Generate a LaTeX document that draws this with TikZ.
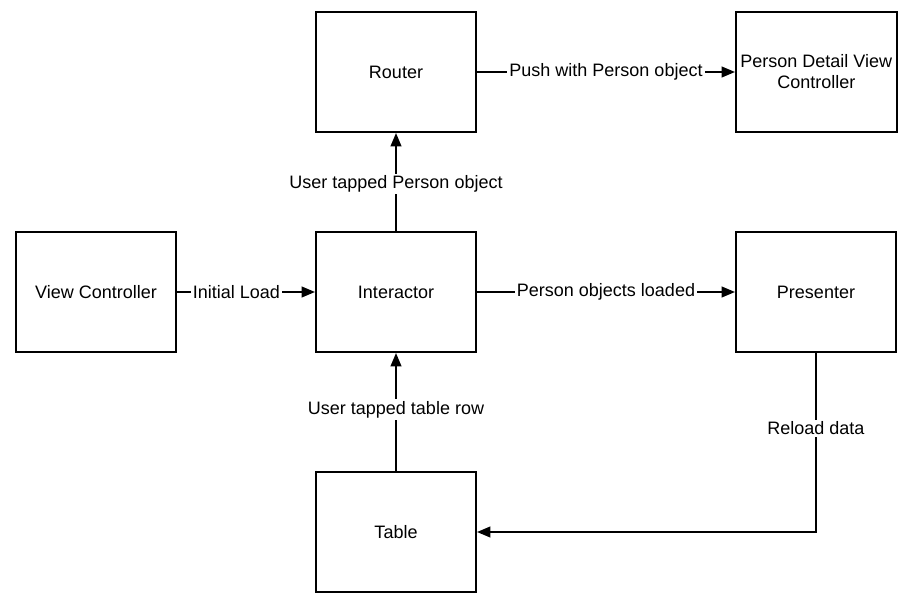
\documentclass[tikz,border=0pt]{standalone}
\usepackage{fontspec}
\setmainfont{Liberation Sans}
\usetikzlibrary{positioning,arrows.meta}

\begin{document}
\begin{tikzpicture}[x=0.75pt,y=0.75pt,line width=1.5pt,
    box/.style={draw,minimum width=120pt,minimum height=90pt,align=center,font=\fontsize{13.5}{15.8}\selectfont},
    lbl/.style={fill=white,inner sep=1.5pt,font=\fontsize{13.5}{15.8}\selectfont},
    arr/.style={-{Triangle[length=10pt,width=8pt]}}]
    \useasboundingbox (0,0) rectangle (911,-610);
    \node[box] (interactor) at (396,-292) {Interactor};
    \node[box,left=103.5pt of interactor] (viewctrl) {View Controller};
    \node[box,right=193.5pt of interactor] (presenter) {Presenter};
    \node[box,above=73.5pt of interactor] (router) {Router};
    \node[box,right=193.5pt of router] (detail) {Person Detail View\\Controller};
    \node[box,below=88.5pt of interactor] (table) {Table};
    \draw[arr] (viewctrl) -- (interactor) node[lbl,pos=0.43] {Initial Load};
    \draw[arr] (interactor) -- (presenter) node[lbl,midway] {Person objects loaded};
    \draw[arr] (interactor) -- (router) node[lbl,pos=0.48] {User tapped Person object};
    \draw[arr] (router) -- (detail) node[lbl,midway] {Push with Person object};
    \draw[arr] (table) -- (interactor) node[lbl,pos=0.52] {User tapped table row};
    \draw[arr] (presenter) |- (table) node[lbl,pos=0.21] {Reload data};
  \end{tikzpicture}
\end{document}
